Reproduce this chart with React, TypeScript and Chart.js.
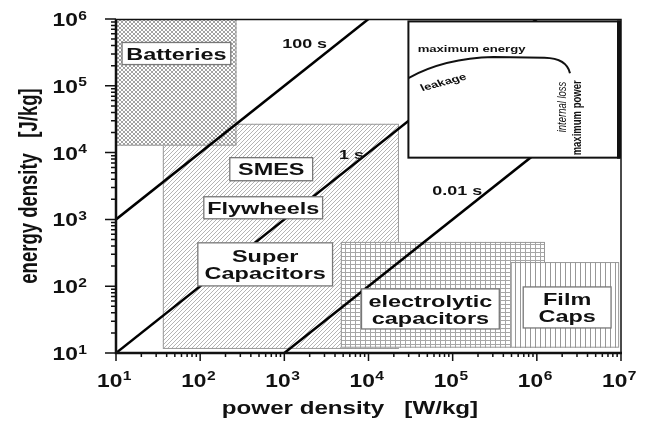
import React, { useEffect, useRef } from 'react';
import { Chart, registerables } from 'chart.js';

Chart.register(...registerables);

// ---------- data ----------
const X_MIN = 10;
const X_MAX = 1e7;
const Y_MIN = 10;
const Y_MAX = 1e6;
const X_TICK_EXP = [1, 2, 3, 4, 5, 6, 7];
const Y_TICK_EXP = [1, 2, 3, 4, 5, 6];

// technology regions (power density W/kg, energy density J/kg)
const TECH_NAMES = ['SMES / Flywheels / Super Capacitors', 'Batteries', 'electrolytic capacitors', 'Film Caps'];
const TECH_P_MIN = [36, 10, 4700, 490000];
const TECH_P_MAX = [23000, 270, 1250000, 9500000];
const TECH_E_MIN = [11.5, 12700, 12, 12];
const TECH_E_MAX = [27000, 1e6, 460, 230];
const TECH_PATTERN = ['diag', 'cross', 'grid', 'vert'];

// constant discharge-time lines
const TIME_LABELS = ['100 s', '1 s', '0.01 s'];
const TIME_LINE_P = [[10, 1e4], [10, 1e6], [1e3, 1e7]];
const TIME_LINE_E = [[1e3, 1e6], [10, 1e6], [10, 1e5]];
const TIME_LABEL_P = [1742, 6280, 113500];
const TIME_LABEL_E = [415000, 8980, 2590];

// label boxes
const LABEL_TEXT = [['Batteries'], ['SMES'], ['Flywheels'], ['Super', 'Capacitors'], ['electrolytic', 'capacitors'], ['Film', 'Caps']];
const LABEL_P = [[11.8, 231], [225, 2170], [110.5, 2849], [93.8, 3741], [8260, 358000], [689000, 7620000]];
const LABEL_E = [[208000, 445000], [3790, 8400], [1021, 2183], [101, 446], [22.9, 91.1], [23.7, 97.5]];

// inset box
const INSET_P = [29800, 1e7];
const INSET_E = [8400, 920000];

// ---------- drawing helpers ----------
const FONT = '"Liberation Sans", Arial, Helvetica, sans-serif';
const SX = 1.38;

function drawText(ctx: CanvasRenderingContext2D, s: string, x: number, y: number, size: number, o: any = {}) {
  const { align = 'center', baseline = 'alphabetic', weight = 'bold', italic = false, rot = 0, sx = SX, color = '#111' } = o;
  ctx.save();
  ctx.translate(x, y);
  ctx.scale(sx, 1);
  if (rot) ctx.rotate(rot);
  ctx.font = `${italic ? 'italic ' : ''}${weight} ${size}px ${FONT}`;
  ctx.textAlign = align;
  ctx.textBaseline = baseline;
  ctx.fillStyle = color;
  ctx.fillText(s, 0, 0);
  ctx.restore();
}

function measure(ctx: CanvasRenderingContext2D, s: string, size: number, sx = SX) {
  ctx.save();
  ctx.font = `bold ${size}px ${FONT}`;
  const w = ctx.measureText(s).width * sx;
  ctx.restore();
  return w;
}

function makePattern(ctx: CanvasRenderingContext2D, kind: string) {
  const c = document.createElement('canvas');
  let w = 4, h = 4;
  if (kind === 'vert') { w = 5; h = 1; }
  if (kind === 'grid') { w = 5; h = 4; }
  c.width = w; c.height = h;
  const g = c.getContext('2d')!;
  g.fillStyle = '#ffffff';
  g.fillRect(0, 0, w, h);
  if (kind === 'diag') {
    g.fillStyle = '#b4b4b4';
    for (let i = 0; i < 4; i++) g.fillRect(i, 3 - i, 1, 1);
  } else if (kind === 'cross') {
    g.fillStyle = '#a2a2a2';
    for (let i = 0; i < 4; i++) { g.fillRect(i, i, 1, 1); g.fillRect(i, 3 - i, 1, 1); }
  } else if (kind === 'grid') {
    g.fillStyle = '#a6a6a6';
    g.fillRect(0, 0, w, 1);
    g.fillRect(0, 0, 1, h);
  } else if (kind === 'vert') {
    g.fillStyle = '#989898';
    g.fillRect(0, 0, 1, h);
  }
  return ctx.createPattern(c, 'repeat')!;
}

const drawPlugin = {
  id: 'ragoneDecor',
  beforeDatasetsDraw(chart: any) {
    const ctx: CanvasRenderingContext2D = chart.ctx;
    const xs = chart.scales.x, ys = chart.scales.y;
    ctx.save();
    TECH_NAMES.forEach((_, i) => {
      const x0 = xs.getPixelForValue(TECH_P_MIN[i]);
      const x1 = xs.getPixelForValue(TECH_P_MAX[i]);
      const y0 = ys.getPixelForValue(TECH_E_MAX[i]);
      const y1 = ys.getPixelForValue(TECH_E_MIN[i]);
      ctx.fillStyle = makePattern(ctx, TECH_PATTERN[i]);
      ctx.fillRect(x0, y0, x1 - x0, y1 - y0);
      ctx.strokeStyle = '#999';
      ctx.lineWidth = 1;
      ctx.strokeRect(x0 + 0.5, y0 + 0.5, x1 - x0 - 1, y1 - y0 - 1);
    });
    ctx.restore();
  },
  afterDatasetsDraw(chart: any) {
    const ctx: CanvasRenderingContext2D = chart.ctx;
    const xs = chart.scales.x, ys = chart.scales.y;
    const area = chart.chartArea;
    ctx.save();

    // label boxes
    LABEL_TEXT.forEach((lines, i) => {
      const x0 = xs.getPixelForValue(LABEL_P[i][0]);
      const x1 = xs.getPixelForValue(LABEL_P[i][1]);
      const y0 = ys.getPixelForValue(LABEL_E[i][1]);
      const y1 = ys.getPixelForValue(LABEL_E[i][0]);
      ctx.fillStyle = '#fff';
      ctx.fillRect(x0, y0, x1 - x0, y1 - y0);
      ctx.strokeStyle = '#777';
      ctx.lineWidth = 1.3;
      ctx.strokeRect(x0, y0, x1 - x0, y1 - y0);
      const cx = (x0 + x1) / 2;
      const cy = (y0 + y1) / 2;
      const lh = 17;
      lines.forEach((t, k) => {
        const by = cy + (k - (lines.length - 1) / 2) * lh + 6.2;
        drawText(ctx, t, cx, by, 17);
      });
    });

    // time labels
    TIME_LABELS.forEach((t, i) => {
      drawText(ctx, t, xs.getPixelForValue(TIME_LABEL_P[i]), ys.getPixelForValue(TIME_LABEL_E[i]), 13, { baseline: 'middle' });
    });

    // inset
    const ix0 = xs.getPixelForValue(INSET_P[0]);
    const ix1 = xs.getPixelForValue(INSET_P[1]);
    const iy0 = ys.getPixelForValue(INSET_E[1]);
    const iy1 = ys.getPixelForValue(INSET_E[0]);
    const iw = ix1 - ix0, ih = iy1 - iy0;
    ctx.fillStyle = '#fff';
    ctx.fillRect(ix0, iy0, iw, ih);
    ctx.strokeStyle = '#111';
    ctx.lineWidth = 2;
    ctx.strokeRect(ix0, iy0, iw - 2, ih);
    ctx.lineWidth = 4;
    ctx.beginPath();
    ctx.moveTo(ix1 - 2, iy0 - 1);
    ctx.lineTo(ix1 - 2, iy1 + 1);
    ctx.stroke();
    // curve
    const P = (fx: number, fy: number): [number, number] => [ix0 + fx * iw, iy0 + fy * ih];
    ctx.lineWidth = 2;
    ctx.beginPath();
    ctx.moveTo(...P(0, 0.416));
    ctx.quadraticCurveTo(...P(0.17, 0.27), ...P(0.4, 0.262));
    ctx.lineTo(...P(0.64, 0.266));
    ctx.quadraticCurveTo(...P(0.745, 0.27), ...P(0.76, 0.38));
    ctx.stroke();
    drawText(ctx, 'maximum energy', ...P(0.297, 0.204), 9.5, { baseline: 'middle' });
    drawText(ctx, 'leakage', ...P(0.165, 0.45), 9.5, { baseline: 'middle', rot: -0.36 });
    drawText(ctx, 'internal loss', ...P(0.722, 0.628), 9.5, { baseline: 'middle', rot: -Math.PI / 2, italic: true, weight: 'normal' });
    drawText(ctx, 'maximum power', ...P(0.793, 0.708), 9.5, { baseline: 'middle', rot: -Math.PI / 2 });

    // frame
    ctx.strokeStyle = '#111';
    ctx.lineWidth = 1.5;
    ctx.beginPath();
    ctx.moveTo(area.left, area.top + 0.5);
    ctx.lineTo(area.right, area.top + 0.5);
    ctx.lineTo(area.right, area.bottom);
    ctx.stroke();
    ctx.lineWidth = 2.5;
    ctx.beginPath();
    ctx.moveTo(area.left, area.top);
    ctx.lineTo(area.left, area.bottom);
    ctx.lineTo(area.right + 1, area.bottom);
    ctx.stroke();

    // ticks
    ctx.lineWidth = 1.5;
    ctx.beginPath();
    for (let e = 0; e < X_TICK_EXP.length; e++) {
      for (let k = 1; k <= 9; k++) {
        const v = k * Math.pow(10, X_TICK_EXP[e]);
        if (v > X_MAX) break;
        const px = xs.getPixelForValue(v);
        ctx.moveTo(px, area.bottom);
        ctx.lineTo(px, area.bottom + (k === 1 ? 8 : 4));
      }
    }
    for (let e = 0; e < Y_TICK_EXP.length; e++) {
      for (let k = 1; k <= 9; k++) {
        const v = k * Math.pow(10, Y_TICK_EXP[e]);
        if (v > Y_MAX) break;
        const py = ys.getPixelForValue(v);
        ctx.moveTo(area.left, py);
        ctx.lineTo(area.left - (k === 1 ? 11 : 5), py);
      }
    }
    ctx.stroke();

    // tick labels
    const TS = 17.5, SS = 12, TSX = 1.3;
    X_TICK_EXP.forEach((e) => {
      const px = xs.getPixelForValue(Math.pow(10, e));
      const w10 = measure(ctx, '10', TS, TSX);
      const ws = measure(ctx, String(e), SS, TSX);
      const left = px - 2 - (w10 + ws) / 2;
      drawText(ctx, '10', left, area.bottom + 34, TS, { align: 'left', sx: TSX });
      drawText(ctx, String(e), left + w10 + 0.5, area.bottom + 27, SS, { align: 'left', sx: TSX });
    });
    Y_TICK_EXP.forEach((e) => {
      const py = ys.getPixelForValue(Math.pow(10, e));
      const w10 = measure(ctx, '10', TS, TSX);
      const ws = measure(ctx, String(e), SS, TSX);
      const right = 87;
      drawText(ctx, '10', right - ws - w10 - 0.5, py + 7, TS, { align: 'left', sx: TSX });
      drawText(ctx, String(e), right - ws, py + 0.5, SS, { align: 'left', sx: TSX });
    });

    // axis titles
    drawText(ctx, 'power density   [W/kg]', 350, 414, 17.5);
    drawText(ctx, 'energy density   [J/kg]', 37, (area.top + area.bottom) / 2, 18.5, { rot: -Math.PI / 2 });

    ctx.restore();
  },
};

export default function App() {
  const ref = useRef<HTMLCanvasElement>(null);
  useEffect(() => {
    if (!ref.current) return;
    const chart = new Chart(ref.current, {
      type: 'scatter',
      data: {
        datasets: TIME_LABELS.map((lab, i) => ({
          label: lab,
          data: [
            { x: TIME_LINE_P[i][0], y: TIME_LINE_E[i][0] },
            { x: TIME_LINE_P[i][1], y: TIME_LINE_E[i][1] },
          ],
          showLine: true,
          borderColor: '#000',
          borderWidth: 2.5,
          pointRadius: 0,
          fill: false,
        })),
      },
      options: {
        animation: false,
        responsive: true,
        maintainAspectRatio: false,
        layout: { padding: { left: 116, right: 35, top: 19, bottom: 68 } },
        scales: {
          x: { type: 'logarithmic', min: X_MIN, max: X_MAX, display: false },
          y: { type: 'logarithmic', min: Y_MIN, max: Y_MAX, display: false },
        },
        plugins: { legend: { display: false }, tooltip: { enabled: false } },
      },
      plugins: [drawPlugin],
    });
    return () => chart.destroy();
  }, []);
  return (
    <div style={{ position: 'fixed', left: 0, top: 0, width: 656, height: 421, background: '#fff' }}>
      <canvas ref={ref} />
    </div>
  );
}
